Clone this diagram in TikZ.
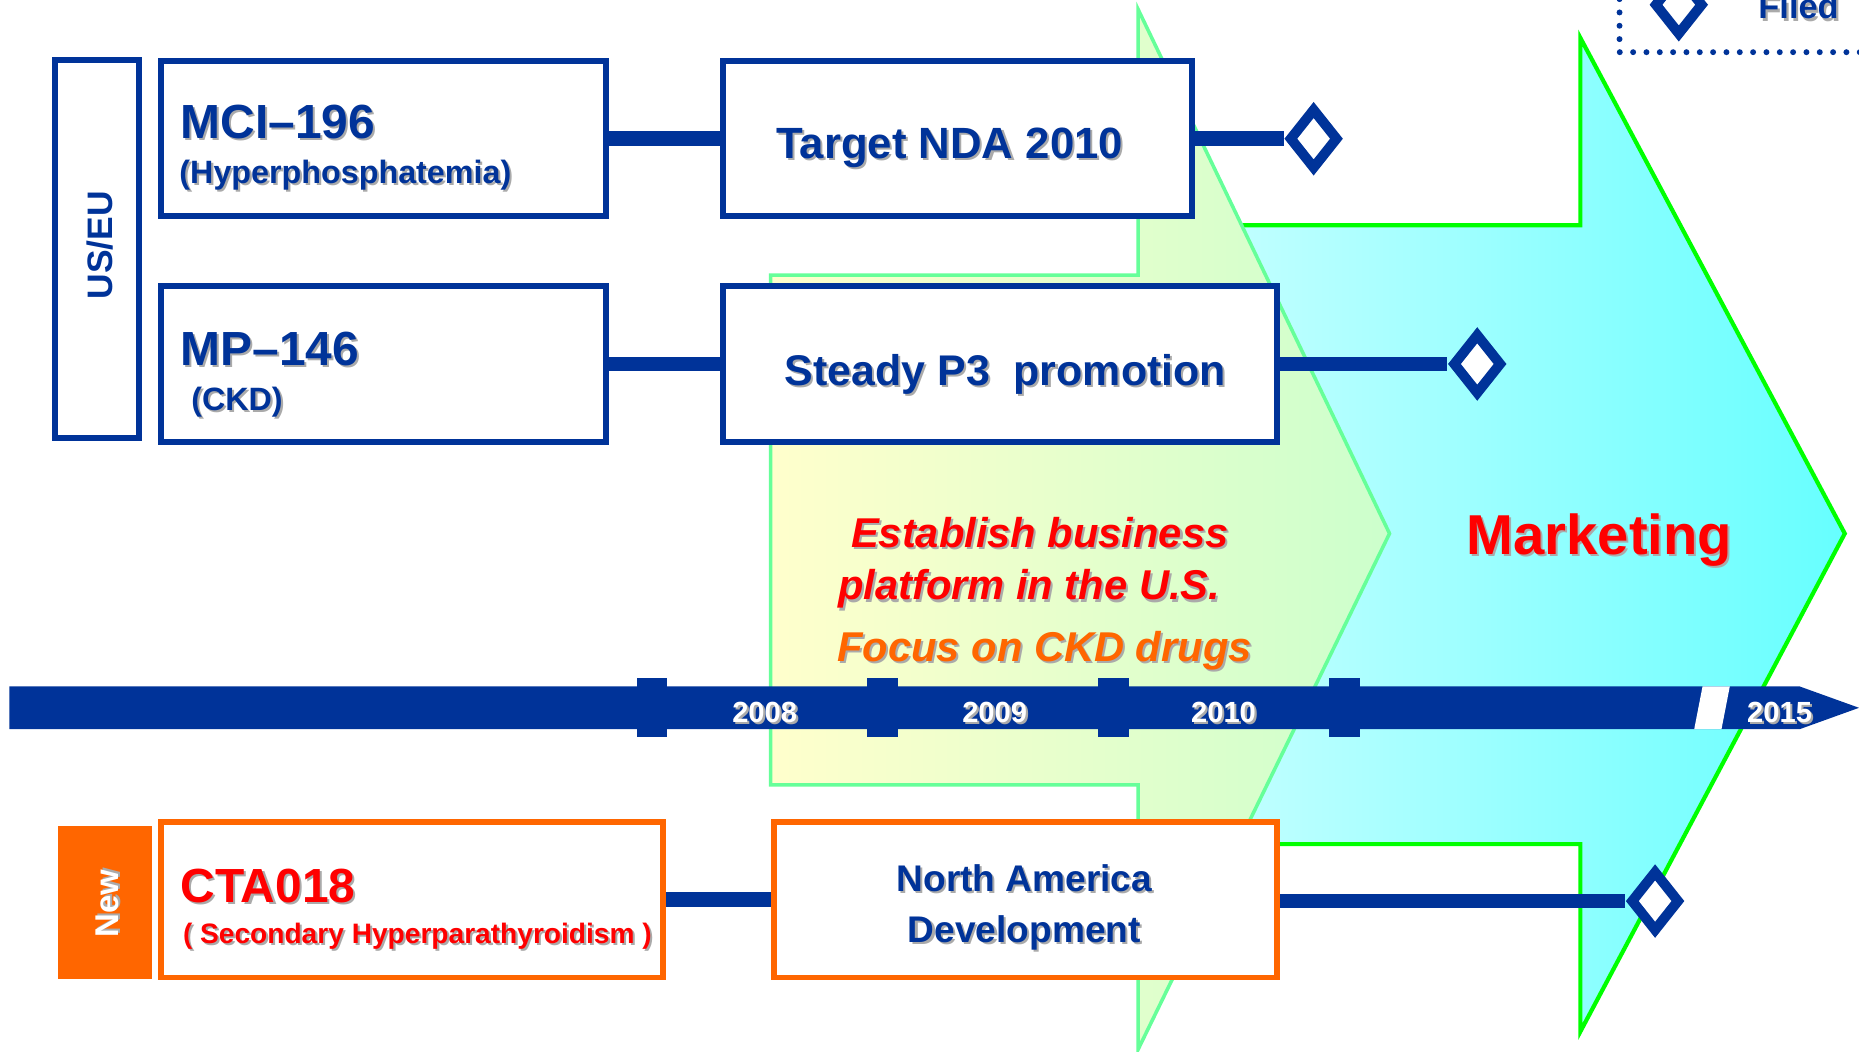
\documentclass[tikz,border=0pt]{standalone}
\usepackage{fontspec}
\setmainfont{Liberation Sans}
\usetikzlibrary{shapes.geometric}
\definecolor{navy}{RGB}{0,51,153}
\definecolor{orng}{RGB}{255,102,0}
\definecolor{redtxt}{RGB}{255,0,0}
\definecolor{brightgreen}{RGB}{0,255,0}
\definecolor{lightgreen}{RGB}{102,255,153}
\definecolor{yellowfill}{RGB}{255,255,204}
\definecolor{greenfill}{RGB}{204,255,204}
\definecolor{cyanlight}{RGB}{204,255,255}
\definecolor{cyandeep}{RGB}{102,255,255}
\definecolor{shadowgray}{RGB}{170,170,170}
\newcommand{\shtext}[1]{\rlap{\kern1pt\raisebox{-1pt}{\textcolor{shadowgray}{#1}}}#1}
\newcommand{\fsz}[1]{\fontsize{#1pt}{#1pt}\selectfont}
\tikzset{
  bluebox/.style={draw=navy, line width=2.85pt, fill=white, inner sep=0pt},
  orangebox/.style={draw=orng, line width=2.85pt, fill=white, inner sep=0pt},
  conn/.style={draw=navy, line width=7.1pt},
  milestone/.style={shape=diamond, draw=navy, line width=4.8pt, fill=white, inner sep=0pt,
    minimum width=0.84cm, minimum height=1.04cm},
  lbl/.style={inner sep=0pt, text=navy},
  yearlbl/.style={inner sep=0pt, text=white, font=\bfseries\fsz{14}, anchor=base},
}
\begin{document}
\begin{tikzpicture}[x=0.02cm, y=-0.02cm]
\clip (0,0) rectangle (1568,887);
\fill[white] (0,0) rectangle (1568,887);
% Marketing arrow (behind)
\path[left color=cyanlight, right color=cyandeep, draw=brightgreen, line width=2pt]
  (975,190) -- (1333,190) -- (1333,32) -- (1556,450) -- (1333,870) -- (1333,712) -- (975,712) -- cycle;
% Establish platform arrow
\path[left color=yellowfill, right color=greenfill, draw=lightgreen, line width=1.7pt]
  (650,232) -- (960,232) -- (960,8) -- (1172,450) -- (960,885) -- (960,662) -- (650,662) -- cycle;
% arrow texts
\node[inner sep=0pt, text=redtxt, font=\bfseries\itshape\fsz{20}, anchor=base] (est1) at (877,462) {\shtext{Establish business}};
\node[inner sep=0pt, text=redtxt, font=\bfseries\itshape\fsz{20}, anchor=base] (est2) at (868,506) {\shtext{platform in the U.S.}};
\node[inner sep=0pt, text=orng, font=\bfseries\itshape\fsz{20}, anchor=base] (focus) at (881,558) {\shtext{Focus on CKD drugs}};
\node[inner sep=0pt, text=redtxt, font=\bfseries\fsz{27}, anchor=base] (mkt) at (1349,468) {\shtext{Marketing}};
% timeline
\fill[navy] (8,579) -- (1518,579) -- (1568,597) -- (1518,615) -- (8,615) -- cycle;
\foreach \tx in {537,731,926,1121} {\fill[navy] (\tx,572) rectangle ++(26,50);}
\fill[white] (1436,579) -- (1459,579) -- (1452,615) -- (1429,615) -- cycle;
\node[yearlbl] (y2008) at (645,609) {\shtext{2008}};
\node[yearlbl] (y2009) at (839,609) {\shtext{2009}};
\node[yearlbl] (y2010) at (1032,609) {\shtext{2010}};
\node[yearlbl] (y2015) at (1501,609) {\shtext{2015}};
% boxes
\node[bluebox, minimum width=1.42cm, minimum height=6.38cm] (useu) at (82,210) {};
\node[lbl, font=\bfseries\fsz{17}, rotate=90] (tuseu) at (84,207) {US/EU};
\node[bluebox, minimum width=7.52cm, minimum height=2.62cm] (mci) at (323.5,117) {};
\node[bluebox, minimum width=7.92cm, minimum height=2.62cm] (nda) at (807.5,117) {};
\node[bluebox, minimum width=7.52cm, minimum height=2.62cm] (mp) at (323.5,307) {};
\node[bluebox, minimum width=9.36cm, minimum height=2.62cm] (p3) at (843.5,307) {};
\node[fill=orng, inner sep=0pt, minimum width=1.58cm, minimum height=2.58cm] (newbox) at (88.5,761.5) {};
\node[orangebox, minimum width=8.48cm, minimum height=2.62cm] (cta) at (347.5,759) {};
\node[orangebox, minimum width=8.5cm, minimum height=2.62cm] (na) at (865,759) {};
% milestones
\node[milestone] (d1) at (1108,117) {};
\node[milestone] (d2) at (1246,307) {};
\node[milestone] (d3) at (1396,760) {};
% connectors
\draw[conn] (mci) -- (nda);
\draw[conn] (nda) -- (d1);
\draw[conn] (mp) -- (p3);
\draw[conn] (p3) -- (d2);
\draw[conn] (cta) -- (na);
\draw[conn] (na.east |- d3) -- (d3);
% box texts
\node[lbl, font=\bfseries\fsz{23}, anchor=base west] (tmci) at (152,117) {\shtext{MCI–196}};
\node[lbl, font=\bfseries\fsz{15.5}, anchor=base west] (tmci2) at (151,155) {\shtext{(Hyperphosphatemia)}};
\node[lbl, font=\bfseries\fsz{21}, anchor=base] (tnda) at (801,134) {\shtext{Target NDA 2010}};
\node[lbl, font=\bfseries\fsz{23}, anchor=base west] (tmp) at (152,308) {\shtext{MP–146}};
\node[lbl, font=\bfseries\fsz{15.5}, anchor=base west] (tmp2) at (161,346) {\shtext{(CKD)}};
\node[lbl, font=\bfseries\fsz{20.6}, anchor=base] (tp3) at (848,325) {\shtext{Steady P3\ \ promotion}};
\node[inner sep=0pt, text=white, font=\bfseries\fsz{15.8}, rotate=90] (tnew) at (91,762) {\shtext{New}};
\node[inner sep=0pt, text=redtxt, font=\bfseries\fsz{23}, anchor=base west] (tcta) at (152,761) {\shtext{CTA018}};
\node[inner sep=0pt, text=redtxt, font=\bfseries\fsz{13.5}, anchor=base west] (tcta2) at (154,796) {\shtext{( Secondary Hyperparathyroidism )}};
\node[lbl, font=\bfseries\fontsize{17.8pt}{24.5pt}\selectfont, align=center] (tna) at (864,766) {\shtext{North America}\\\shtext{Development}};
% legend
\draw[navy, line width=2.85pt, line cap=round, dash pattern=on 0pt off 6.4pt] (1366,-12) -- (1366,44) -- (1585,44);
\node[milestone] (dleg) at (1416,4) {};
\node[lbl, font=\bfseries\fsz{16.5}, anchor=base] (filed) at (1517,16) {\shtext{Filed}};
\end{tikzpicture}
\end{document}
